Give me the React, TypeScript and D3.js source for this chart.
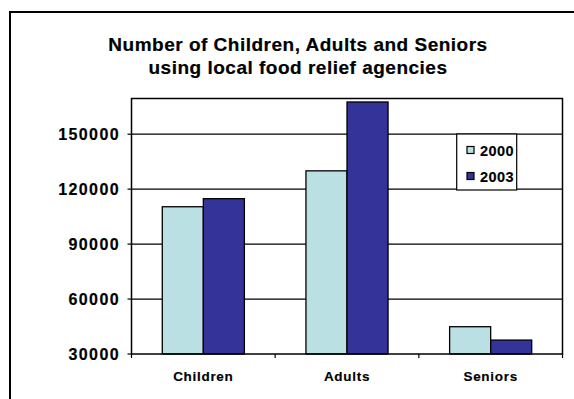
import React from "react";
import * as d3 from "d3";

const categories = ["Children", "Adults", "Seniors"];
const seriesNames = ["2000", "2003"];
const values2000 = [110400, 130000, 44900];
const values2003 = [114800, 167600, 37600];
const yTicks = [30000, 60000, 90000, 120000, 150000];
const titleLines = ["Number of Children, Adults and Seniors", "using local food relief agencies"];
const colors = ["#BBE0E3", "#333399"];

export default function App() {
  const W = 574, H = 399;
  const left = 131.5, right = 562.5, top = 98.5, bottom = 354;
  const y = d3.scaleLinear().domain([30000, 169500]).range([bottom, top]);
  const x0 = d3.scaleBand().domain(categories).range([left, right]).paddingInner(0).paddingOuter(0);
  const groupW = x0.bandwidth() * (2 / 3.5);
  const x1 = d3.scaleBand().domain(seriesNames).range([0, groupW]);
  const series = [values2000, values2003];
  const font = "'Liberation Sans', Arial, sans-serif";
  return (
    <svg width={W} height={H} style={{ position: "absolute", left: 0, top: 0, display: "block" }} fontFamily={font}>
      <rect x={0} y={0} width={W} height={H} fill="#fff" />
      <rect x={10} y={12} width={600} height={420} fill="#fff" stroke="#000" strokeWidth={2} />
      {titleLines.map((t, i) => (
        <text key={i} x={298} y={50.5 + i * 23} textAnchor="middle" fontWeight="bold" fontSize={19} letterSpacing={0.5} fill="#000" stroke="#000" strokeWidth={0.2}>{t}</text>
      ))}
      {yTicks.map((t) => (
        <g key={t}>
          {t !== 30000 && <line x1={left} x2={right} y1={y(t)} y2={y(t)} stroke="#000" strokeWidth={1.2} />}
          <line x1={left - 4} x2={left} y1={y(t)} y2={y(t)} stroke="#000" strokeWidth={1.2} />
          <text x={120} y={y(t) + 5.8} textAnchor="end" fontWeight="bold" fontSize={16} letterSpacing={1.4} fill="#000" stroke="#000" strokeWidth={0.2}>{t}</text>
        </g>
      ))}
      {categories.map((c, ci) => (
        <g key={c}>
          {series.map((vals, si) => {
            const bx = (x0(c) as number) + (x0.bandwidth() - groupW) / 2 + (x1(seriesNames[si]) as number);
            return (
              <rect key={si} x={bx} y={y(vals[ci])} width={x1.bandwidth()} height={bottom - y(vals[ci])}
                fill={colors[si]} stroke="#000" strokeWidth={1.3} />
            );
          })}
          <text x={(x0(c) as number) + x0.bandwidth() / 2} y={381} textAnchor="middle" fontWeight="bold" fontSize={13.5} letterSpacing={0.7} fill="#000" stroke="#000" strokeWidth={0.15}>{c}</text>
        </g>
      ))}
      {categories.concat(["end"]).map((c, i) => {
        const tx = left + i * x0.bandwidth();
        return <line key={i} x1={tx} x2={tx} y1={bottom} y2={bottom + 4} stroke="#000" strokeWidth={1.2} />;
      })}
      <rect x={left} y={top} width={right - left} height={bottom - top} fill="none" stroke="#000" strokeWidth={1.5} />
      <g>
        <rect x={456.7} y={134} width={60} height={56} fill="#fff" stroke="#000" strokeWidth={1.2} />
        {seriesNames.map((s, i) => (
          <g key={s}>
            <rect x={467} y={146.5 + i * 26} width={7} height={7} fill={colors[i]} stroke="#000" strokeWidth={1.2} />
            <text x={480} y={155.5 + i * 26} fontWeight="bold" fontSize={14.5} letterSpacing={0.4} fill="#000" stroke="#000" strokeWidth={0.15}>{s}</text>
          </g>
        ))}
      </g>
    </svg>
  );
}
